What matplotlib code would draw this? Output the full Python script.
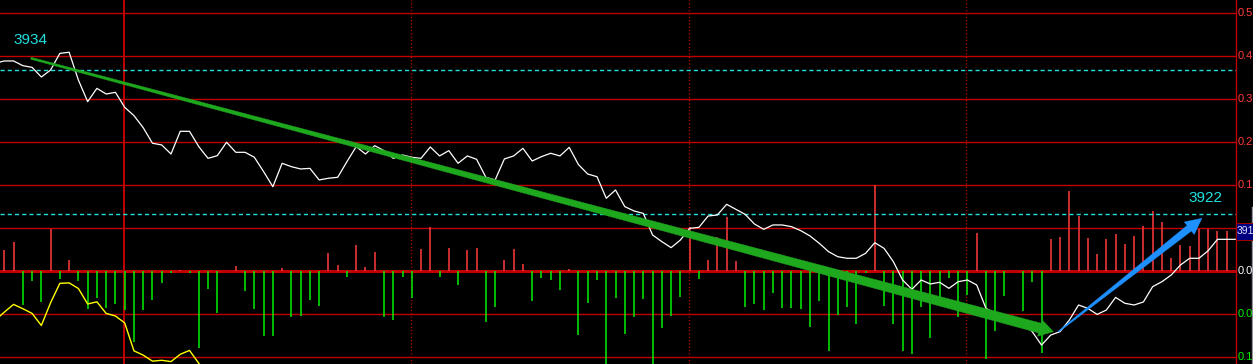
import numpy as np
import matplotlib
matplotlib.use("Agg")
import matplotlib.pyplot as plt
from matplotlib.patches import Polygon, Rectangle
from matplotlib.lines import Line2D
from matplotlib import font_manager as fm
import matplotlib.transforms as mtransforms

plt.rcParams['lines.scale_dashes'] = False

# ---------------- data ----------------
# white price line, index -1 .. 133
price = [3933.59, 3933.78, 3933.78, 3933.39, 3933.25, 3932.45, 3933.03, 3934.41, 3934.50, 3932.20,
         3930.41, 3931.51, 3931.04, 3931.18, 3929.94, 3929.25, 3928.25, 3926.96, 3926.82, 3926.07,
         3927.95, 3927.95, 3926.68, 3925.71, 3925.93, 3927.04, 3926.21, 3926.21, 3925.80, 3924.61,
         3923.36, 3925.30, 3925.02, 3924.83, 3924.88, 3923.92, 3924.06, 3924.14, 3925.44, 3926.68,
         3926.07, 3926.76, 3926.35, 3925.71, 3925.99, 3925.80, 3925.71, 3926.65, 3925.91, 3926.35,
         3925.30, 3925.91, 3925.63, 3924.14, 3923.92, 3925.66, 3925.91, 3926.54, 3925.49, 3925.85,
         3926.13, 3925.91, 3926.62, 3925.19, 3924.41, 3924.19, 3922.40, 3923.09, 3921.71, 3921.35,
         3921.15, 3919.36, 3918.81, 3918.31, 3918.94, 3919.91, 3919.99, 3920.93, 3921.02, 3921.90,
         3921.49, 3921.07, 3920.27, 3919.83, 3920.19, 3920.19, 3920.05, 3919.72, 3919.28, 3918.67,
         3917.98, 3917.56, 3917.43, 3917.43, 3917.84, 3918.72, 3918.25, 3917.15, 3915.63, 3914.86,
         3915.63, 3915.30, 3915.44, 3914.94, 3915.49, 3915.63, 3915.22, 3913.28, 3912.87, 3912.73,
         3912.31, 3912.18, 3911.35, 3910.24, 3911.07, 3911.35, 3912.31, 3913.56, 3913.28, 3912.78,
         3913.14, 3914.19, 3913.70, 3913.56, 3913.81, 3915.08, 3915.49, 3916.04, 3916.87, 3917.43,
         3917.43, 3918.06, 3919.00, 3919.00, 3919.00]

# red / green flow bars, index 0 .. 132
flow = [0.050, 0.067, -0.078, -0.023, -0.071, 0.099, -0.019, 0.026, -0.023, -0.088,
        -0.063, -0.085, -0.076, -0.090, -0.164, -0.090, -0.067, -0.027, -0.004, 0.004,
        -0.003, -0.178, -0.041, -0.097, 0.000, 0.012, -0.046, -0.088, -0.150, -0.150,
        0.008, -0.106, -0.104, -0.067, -0.081, 0.043, 0.015, -0.013, 0.061, 0.010,
        0.046, -0.106, -0.113, -0.013, -0.062, 0.052, 0.103, -0.013, 0.054, -0.032,
        0.050, 0.054, -0.118, -0.083, 0.026, 0.052, 0.017, -0.069, -0.016, -0.020,
        -0.043, 0.005, -0.148, -0.074, -0.020, -0.235, -0.062, -0.146, -0.106, -0.064,
        -0.235, -0.132, -0.104, -0.060, 0.103, -0.018, 0.026, 0.080, 0.126, 0.024,
        -0.083, -0.076, -0.090, -0.050, -0.085, -0.085, -0.088, -0.130, -0.069, -0.185,
        -0.102, -0.083, -0.123, -0.005, 0.201, -0.081, -0.123, -0.185, -0.192, -0.083,
        -0.155, -0.062, -0.016, -0.106, -0.055, 0.090, -0.204, -0.139, -0.057, 0.000,
        -0.092, -0.025, -0.190, 0.075, 0.080, 0.187, 0.129, 0.077, 0.040, 0.075,
        0.087, 0.063, 0.082, 0.105, 0.140, 0.115, 0.031, 0.061, 0.059, 0.098,
        0.098, 0.093, 0.093]

# yellow line, index -1 .. 23
yellow = [-0.114, -0.095, -0.077, -0.087, -0.098, -0.126, -0.073, -0.028, -0.027, -0.040,
          -0.076, -0.071, -0.098, -0.104, -0.120, -0.185, -0.195, -0.209, -0.207, -0.210,
          -0.193, -0.184, -0.214, -0.241, -0.270]

grid_levels = [0.6, 0.5, 0.4, 0.3, 0.2, 0.1, 0.0, -0.1, -0.2]
axis_labels = ["0.5", "0.4", "0.3", "0.2", "0.1", "", "0.0", "0.0", "0.1"]
label_kinds = ["pos", "pos", "pos", "pos", "pos", "pos", "zero", "neg", "neg"]

session_solid = [12.96]
session_dotted = [43.92, 73.97, 103.89]

ref_levels = [3933.0, 3921.08]          # cyan dashed lines
annot_text = ["3934", "3922"]
annot_pos = [(0.94, 3935.52), (127.9, 3922.45)]
down_arrow = [(2.88, 3934.0), (113.28, 3911.35)]
up_arrow = [(113.82, 3911.35), (129.31, 3920.74)]
last_price = "391"

# ---------------- styling ----------------
def has_font(name):
    try:
        fm.findfont(fm.FontProperties(family=name), fallback_to_default=False)
        return True
    except Exception:
        return False

FONT = 'Liberation Sans Narrow' if has_font('Liberation Sans Narrow') else 'Liberation Sans'

BG = '#000000'
GRID = '#C00000'
RED = '#FF3C3C'
GREEN = '#00F000'
CYAN = '#20E0E0'

W, H = 1253, 364
fig = plt.figure(figsize=(W / 100, H / 100), dpi=100, facecolor=BG)
ax = fig.add_axes([0, 0, 1236 / W, 1])
ax.set_facecolor(BG)
ax.set_xlim(-0.464, 133.0)
ax.set_ylim(-0.2156, 0.6309)
for s in ax.spines.values():
    s.set_visible(False)
ax.set_xticks([])
ax.set_yticks([])

# horizontal grid
for lv in grid_levels:
    ax.axhline(lv, color=GRID, lw=2.2 if lv == 0 else 1.0, zorder=1)

# session separators
for xs in session_solid:
    ax.axvline(xs, color=GRID, lw=1.4, zorder=1)
for xs in session_dotted:
    ax.axvline(xs, color=GRID, lw=1.0, dashes=(0.8, 1.6), zorder=1)

# bars
idx = np.arange(len(flow))
fv = np.array(flow)
pos = fv > 0
neg = fv < 0
ax.vlines(idx[pos], 0, fv[pos], color=RED, lw=1.1, zorder=2)
ax.vlines(idx[neg], 0, fv[neg], color=GREEN, lw=1.1, zorder=2)

# yellow line
ax.plot(np.arange(-1, len(yellow) - 1), yellow, color='#FFFF00', lw=1.0, zorder=3)

# price axis
ax2 = ax.twinx()
ax2.set_ylim(3908.67, 3938.83)
ax2.set_xlim(-0.464, 133.0)
ax2.patch.set_visible(False)
for s in ax2.spines.values():
    s.set_visible(False)
ax2.set_xticks([])
ax2.set_yticks([])

for lv in ref_levels:
    ax2.axhline(lv, color=CYAN, lw=1.0, dashes=(3.0, 2.2), zorder=2)

ax2.plot(np.arange(-1, len(price) - 1), price, color='white', lw=0.9, zorder=4)

def tapered_arrow(a, p0, p1, w0, w1, head_w, head_len, color):
    T = a.transData
    q0 = T.transform(p0)
    q1 = T.transform(p1)
    d = q1 - q0
    u = d / np.hypot(*d)
    n = np.array([-u[1], u[0]])
    b = q1 - u * head_len
    pts = [q0 + n * w0 / 2, b + n * w1 / 2, b + n * head_w / 2, q1,
           b - n * head_w / 2, b - n * w1 / 2, q0 - n * w0 / 2]
    data = T.inverted().transform(np.array(pts))
    a.add_patch(Polygon(data, closed=True, facecolor=color, edgecolor=color,
                        lw=0.3, zorder=6))

tapered_arrow(ax2, down_arrow[0], down_arrow[1], 2.0, 10.0, 17.0, 14.0, '#1EA81E')
tapered_arrow(ax2, up_arrow[0], up_arrow[1], 1.0, 7.0, 16.0, 16.0, '#1E90FF')

for t, (xx, yy) in zip(annot_text, annot_pos):
    ax2.text(xx, yy, t, color=CYAN, fontsize=11, family=FONT, va='center',
             ha='left', zorder=7)

# right axis
fig.add_artist(Line2D([1236 / W, 1236 / W], [0, 1], color=GRID, lw=1.0,
                      transform=fig.transFigure))
trans = mtransforms.blended_transform_factory(fig.transFigure, ax.transData)
colors = {"pos": RED, "zero": 'white', "neg": GREEN}
for lv, lab, kind in zip(grid_levels, axis_labels, label_kinds):
    if lab:
        fig.text(1238 / W, lv, lab, color=colors[kind], fontsize=8, family=FONT,
                 va='center', ha='left', transform=trans)

# last-price badge
fig.add_artist(Rectangle((1236 / W, 1 - 240 / H), 17 / W, 17 / H, facecolor='#000080',
                         edgecolor='#A00000', lw=0.7, transform=fig.transFigure, zorder=5))
fig.add_artist(Line2D([1252 / W, 1252 / W], [0, 1 - 207 / H], color='#9090A0', lw=1.0,
                      transform=fig.transFigure))
fig.text(1236.5 / W, 1 - 231.5 / H, last_price, color='#E0E0FF', fontsize=7.5, family=FONT,
         va='center', ha='left', zorder=6)

fig.savefig('out.png', dpi=100, facecolor=BG)
